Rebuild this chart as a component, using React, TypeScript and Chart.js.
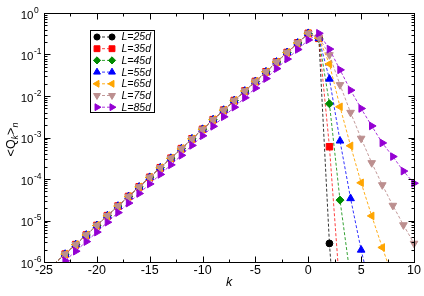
import React, { useEffect, useRef } from "react";
import { Chart, registerables } from "chart.js";

Chart.register(...registerables);

// ---------- data ----------
const kValues = [
  -24, -23, -22, -21, -20, -19, -18, -17, -16, -15, -14, -13, -12, -11, -10,
  -9, -8, -7, -6, -5, -4, -3, -2, -1, 0, 1, 2, 3, 4, 5, 6, 7, 8, 9, 10,
];

// rising branch (k = -24 .. 0), shared by L = 25d .. 75d
const riseCommon = [
  9.1e-7, 1.55e-6, 2.63e-6, 4.47e-6, 7.6e-6, 1.31e-5, 2.23e-5, 3.8e-5, 6.45e-5,
  1.1e-4, 1.87e-4, 3.17e-4, 5.4e-4, 9.3e-4, 1.58e-3, 2.69e-3, 4.57e-3, 7.8e-3,
  1.32e-2, 2.25e-2, 3.83e-2, 6.6e-2, 0.112, 0.19, 0.324,
];
// rising branch (k = -24 .. 0) for L = 85d
const riseL85 = [
  6.3e-7, 1.07e-6, 1.82e-6, 3.1e-6, 5.25e-6, 9.1e-6, 1.55e-5, 2.63e-5, 4.47e-5,
  7.6e-5, 1.29e-4, 2.19e-4, 3.72e-4, 6.45e-4, 1.1e-3, 1.86e-3, 3.16e-3, 5.37e-3,
  9.1e-3, 1.55e-2, 2.63e-2, 4.57e-2, 7.76e-2, 0.132, 0.224,
];

// decaying branch, from k = 1 onward
const tailL25 = [0.245, 2.8e-6, 1e-9];
const tailL35 = [0.245, 6.0e-4, 2e-7];
const tailL45 = [0.245, 6.5e-3, 3.1e-5, 4e-7];
const tailL55 = [0.245, 0.0257, 8.3e-4, 3.4e-5, 1.95e-6, 1.66e-7];
const tailL65 = [0.25, 0.059, 5.5e-3, 6.3e-4, 8.1e-5, 1.29e-5, 2.24e-6, 4.2e-7];
const tailL75 = [0.26, 0.098, 0.0186, 4.0e-3, 9.5e-4, 2.45e-4, 7.2e-5, 2.3e-5, 7.8e-6, 2.8e-6];
const tailL85 = [0.324, 0.135, 0.0427, 0.0138, 5.0e-3, 1.9e-3, 7.4e-4, 3.47e-4, 1.55e-4, 7.9e-5];

const seriesLabels = ["L=25d", "L=35d", "L=45d", "L=55d", "L=65d", "L=75d", "L=85d"];

const xTickValues = [-25, -20, -15, -10, -5, 0, 5, 10];
const yTickExponents = [-6, -5, -4, -3, -2, -1, 0];

const X_MIN = -25;
const X_MAX = 10;
const Y_MIN = 1e-6;
const Y_MAX = 1;

// ---------- styles ----------
type MarkerStyle = { shape: string; rot: number; color: string; line: string; r: number };
const markerStyles: MarkerStyle[] = [
  { shape: "circle", rot: 0, color: "#000000", line: "rgba(0,0,0,0.8)", r: 3.4 },
  { shape: "rect", rot: 0, color: "#ff0000", line: "rgba(255,0,0,0.75)", r: 4.6 },
  { shape: "rectRot", rot: 0, color: "#008b00", line: "rgba(0,139,0,0.8)", r: 4 },
  { shape: "triangle", rot: 0, color: "#0000ff", line: "rgba(0,0,255,0.8)", r: 4.4 },
  { shape: "triangle", rot: 270, color: "#ffa500", line: "rgba(255,165,0,0.9)", r: 4.4 },
  { shape: "triangle", rot: 180, color: "#bc8f8f", line: "rgba(188,143,143,0.9)", r: 4.4 },
  { shape: "triangle", rot: 90, color: "#9400d3", line: "rgba(148,0,211,0.8)", r: 4.4 },
];

const seriesValues = [
  riseCommon.concat(tailL25),
  riseCommon.concat(tailL35),
  riseCommon.concat(tailL45),
  riseCommon.concat(tailL55),
  riseCommon.concat(tailL65),
  riseCommon.concat(tailL75),
  riseL85.concat(tailL85),
];

function drawMarker(ctx: CanvasRenderingContext2D, m: MarkerStyle, x: number, y: number, r: number) {
  ctx.save();
  ctx.fillStyle = m.color;
  ctx.strokeStyle = m.color;
  ctx.lineWidth = 1;
  ctx.setLineDash([]);
  ctx.beginPath();
  if (m.shape === "circle") {
    ctx.arc(x, y, r, 0, Math.PI * 2);
  } else if (m.shape === "rect") {
    const s = Math.SQRT1_2 * r;
    ctx.rect(x - s, y - s, 2 * s, 2 * s);
  } else if (m.shape === "rectRot") {
    ctx.moveTo(x, y - r);
    ctx.lineTo(x + r, y);
    ctx.lineTo(x, y + r);
    ctx.lineTo(x - r, y);
    ctx.closePath();
  } else {
    const a0 = (m.rot * Math.PI) / 180;
    for (let i = 0; i < 3; i++) {
      const a = a0 - Math.PI / 2 + (i * 2 * Math.PI) / 3;
      const px = x + Math.cos(a) * r;
      const py = y + Math.sin(a) * r;
      if (i === 0) ctx.moveTo(px, py);
      else ctx.lineTo(px, py);
    }
    ctx.closePath();
  }
  ctx.fill();
  ctx.stroke();
  ctx.restore();
}

const framePlugin = {
  id: "graceFrame",
  afterDraw(chart: any) {
    const { ctx, chartArea: a, scales } = chart;
    const xs = scales.x;
    const ys = scales.y;
    const L = Math.round(a.left) + 0.5;
    const R = Math.round(a.right) + 0.5;
    const T = Math.round(a.top) + 0.5;
    const B = Math.round(a.bottom) + 0.5;
    ctx.save();
    ctx.strokeStyle = "#000";
    ctx.lineWidth = 1;
    ctx.setLineDash([]);
    ctx.strokeRect(L, T, R - L, B - T);

    // x ticks (major + minor), inward on bottom and top
    ctx.beginPath();
    for (let v = X_MIN; v <= X_MAX + 1e-9; v += 2.5) {
      const px = Math.round(xs.getPixelForValue(v)) + 0.5;
      const major = Math.abs(v % 5) < 1e-9;
      const len = major ? 6 : 3;
      ctx.moveTo(px, B);
      ctx.lineTo(px, B - len);
      ctx.moveTo(px, T);
      ctx.lineTo(px, T + len);
    }
    // y ticks (major + minor), inward on left and right
    for (const e of yTickExponents) {
      for (let m = 1; m <= 9; m++) {
        if (e === 0 && m > 1) break;
        const v = m * Math.pow(10, e);
        const py = Math.round(ys.getPixelForValue(v)) + 0.5;
        const len = m === 1 ? 6 : 3;
        ctx.moveTo(L, py);
        ctx.lineTo(L + len, py);
        ctx.moveTo(R, py);
        ctx.lineTo(R - len, py);
      }
    }
    ctx.stroke();

    // x tick labels
    ctx.fillStyle = "#000";
    ctx.font = "12.5px 'Liberation Sans', Arial, sans-serif";
    ctx.textAlign = "center";
    ctx.textBaseline = "middle";
    for (const v of xTickValues) {
      const px = xs.getPixelForValue(v);
      ctx.fillText(String(v), px, a.bottom + 9);
    }

    // y tick labels: 10^e
    for (const e of yTickExponents) {
      const py = ys.getPixelForValue(Math.pow(10, e));
      ctx.font = "11.5px 'Liberation Sans', Arial, sans-serif";
      ctx.textAlign = "right";
      ctx.fillText("10", 33.5, py + 2.5);
      ctx.font = "8.5px 'Liberation Sans', Arial, sans-serif";
      ctx.textAlign = "left";
      ctx.fillText(String(e), 34, py - 2.5);
    }

    // x axis title
    ctx.font = "italic 12.5px 'Liberation Sans', Arial, sans-serif";
    ctx.textAlign = "center";
    ctx.fillText("k", (a.left + a.right) / 2, a.bottom + 21);

    // y axis title: <Q_k>_n (rotated)
    ctx.save();
    ctx.translate(15, (a.top + a.bottom) / 2 + 2);
    ctx.rotate(-Math.PI / 2);
    ctx.textAlign = "left";
    ctx.textBaseline = "alphabetic";
    const big = "12.5px 'Liberation Sans', Arial, sans-serif";
    const small = "italic 9px 'Liberation Sans', Arial, sans-serif";
    const parts: [string, string, number][] = [
      ["<Q", big, 0],
      ["k", small, 3],
      [">", big, 0],
      ["n", small, 3],
    ];
    let total = 0;
    for (const [t, f] of parts) {
      ctx.font = f;
      total += ctx.measureText(t).width;
    }
    let cx = -total / 2;
    for (const [t, f, dy] of parts) {
      ctx.font = f;
      ctx.fillText(t, cx, dy);
      cx += ctx.measureText(t).width;
    }
    ctx.restore();

    // legend
    const bx = 90.5, by = 30.5, bw = 64, bh = 82;
    ctx.fillStyle = "#fff";
    ctx.fillRect(bx, by, bw, bh);
    ctx.strokeStyle = "#000";
    ctx.strokeRect(bx, by, bw, bh);
    for (let i = 0; i < seriesLabels.length; i++) {
      const m = markerStyles[i];
      const ry = 37 + i * 11.7;
      ctx.save();
      ctx.strokeStyle = m.line;
      ctx.setLineDash([3, 2]);
      ctx.beginPath();
      ctx.moveTo(97, ry);
      ctx.lineTo(112, ry);
      ctx.stroke();
      ctx.restore();
      drawMarker(ctx, m, 97, ry, m.r * 0.9);
      drawMarker(ctx, m, 112, ry, m.r * 0.9);
      ctx.fillStyle = "#000";
      ctx.font = "italic 10.5px 'Liberation Sans', Arial, sans-serif";
      ctx.textAlign = "left";
      ctx.textBaseline = "middle";
      ctx.fillText(seriesLabels[i], 121.5, ry + 0.5);
    }
    ctx.restore();
  },
};

export default function App() {
  const canvasRef = useRef<HTMLCanvasElement | null>(null);

  useEffect(() => {
    if (!canvasRef.current) return;
    const datasets = seriesValues.map((vals, si) => {
      const m = markerStyles[si];
      return {
        label: seriesLabels[si],
        data: vals.map((v, i) => ({ x: kValues[i], y: v })),
        borderColor: m.line,
        borderWidth: 1,
        borderDash: [3, 2],
        backgroundColor: m.color,
        pointBackgroundColor: m.color,
        pointBorderColor: m.color,
        pointBorderWidth: 1,
        pointStyle: m.shape,
        pointRotation: m.rot,
        pointRadius: (c: any) => (c.raw && c.raw.y < Y_MIN ? 0 : m.r),
        pointHoverRadius: m.r,
        showLine: true,
        fill: false,
        tension: 0,
        order: seriesValues.length - si,
        clip: { left: 1, top: 1, right: 6, bottom: 0 },
      };
    });

    const chart = new Chart(canvasRef.current, {
      type: "line",
      data: { datasets: datasets as any },
      options: {
        animation: false,
        responsive: false,
        devicePixelRatio: 1,
        layout: { padding: { left: 44, right: 10, top: 13, bottom: 34 } },
        scales: {
          x: { type: "linear", min: X_MIN, max: X_MAX, display: false },
          y: { type: "logarithmic", min: Y_MIN, max: Y_MAX, display: false },
        },
        plugins: {
          legend: { display: false },
          tooltip: { enabled: false },
        },
        events: [],
      },
      plugins: [framePlugin],
    });
    return () => chart.destroy();
  }, []);

  return (
    <div style={{ position: "fixed", left: 0, top: 0, width: 424, height: 296, background: "#fff" }}>
      <canvas ref={canvasRef} width={424} height={296} style={{ width: 424, height: 296, display: "block" }} />
    </div>
  );
}
